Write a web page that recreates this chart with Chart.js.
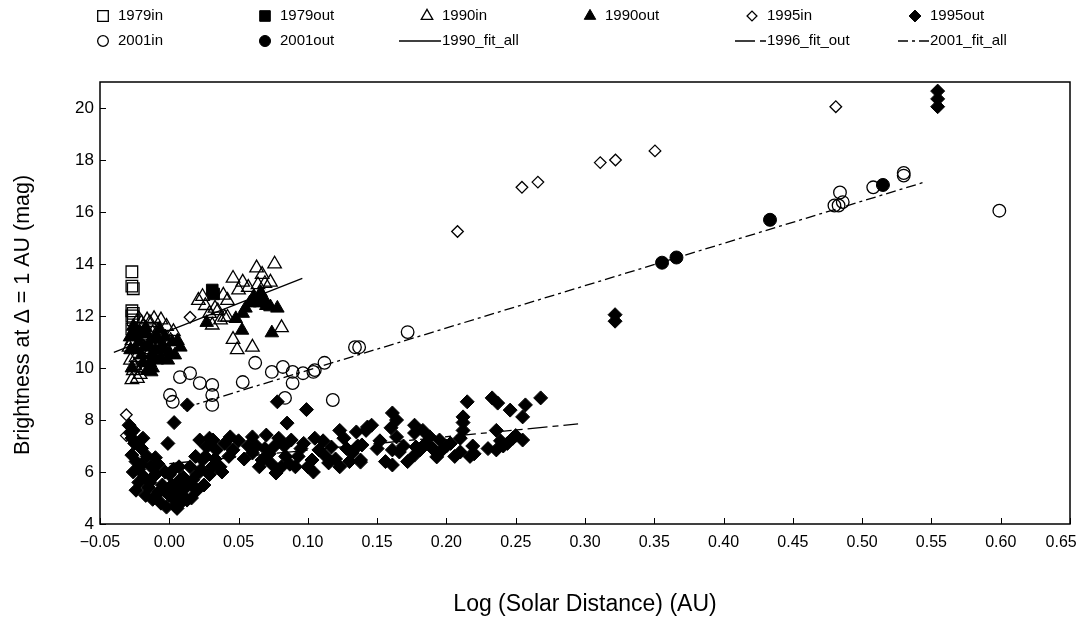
<!DOCTYPE html>
<html>
<head>
<meta charset="utf-8">
<title>Brightness vs solar distance</title>
<script src="https://cdn.jsdelivr.net/npm/chart.js@4.4.0/dist/chart.umd.min.js"></script>
<style>
  html, body { margin: 0; padding: 0; background: #fff; }
  #wrap { width: 1080px; height: 621px; }
</style>
</head>
<body>
<div id="wrap"><canvas id="chart" width="1080" height="621"></canvas></div>
<script>
// ---- data ----
const xTickValues = [-0.05, 0, 0.05, 0.10, 0.15, 0.20, 0.25, 0.30, 0.35, 0.40, 0.45, 0.50, 0.55, 0.60, 0.65];
const yTickValues = [4, 6, 8, 10, 12, 14, 16, 18, 20];

const x1979in = [-0.027, -0.027, -0.026, -0.027, -0.026, -0.027, -0.026, -0.027];
const y1979in = [13.7, 13.15, 13.05, 12.2, 12.1, 12.0, 11.85, 11.5];

const x1979out = [0.031, 0.032];
const y1979out = [13.0, 12.85];

const x1990in = [-0.028, -0.025, -0.020, -0.016, -0.011, -0.006, -0.002, -0.027, -0.029, -0.024, -0.025,
  -0.021, -0.027, -0.023, -0.012, -0.008, -0.019, -0.013, 0.001, -0.017, -0.026,
  -0.022, -0.014, 0.003, -0.028, -0.020,
  0.021, 0.024, 0.026, 0.029, 0.033, 0.031, 0.035, 0.037, 0.039, 0.040, 0.042, 0.042, 0.046, 0.050,
  0.053, 0.057, 0.063, 0.064, 0.067, 0.069, 0.073, 0.076, 0.081, 0.046, 0.049, 0.060];
const y1990in = [11.2, 11.5, 11.75, 11.85, 11.9, 11.85, 11.6, 11.05, 10.8, 10.4, 10.1,
  9.75, 9.55, 9.6, 11.35, 11.45, 11.6, 10.7, 11.05, 10.0, 9.9,
  11.9, 11.75, 11.4, 10.3, 10.0,
  12.6, 12.75, 12.4, 12.1, 12.3, 11.65, 12.2, 11.85, 12.8, 11.95, 11.95, 12.6, 13.45, 13.0,
  13.3, 13.1, 13.85, 13.2, 13.6, 13.25, 13.3, 14.0, 11.55, 11.1, 10.7, 10.8];

const x1990out = [-0.028, -0.025, -0.022, -0.021, -0.018, -0.016, -0.014, -0.013, -0.011, -0.009, -0.009,
  -0.005, -0.004, -0.001, 0.002, -0.024, -0.019, -0.013, -0.028, 0.006, 0.008, -0.007, -0.017,
  -0.026, -0.023, -0.020, -0.015, -0.012, -0.010, -0.006, -0.003, 0.000, 0.004, -0.027, -0.016,
  0.027, 0.053, 0.0525, 0.074, 0.078, 0.063, 0.058, 0.0655, 0.070, 0.068, 0.061, 0.055, 0.048, 0.073, 0.066];
const y1990out = [11.2, 11.4, 11.0, 11.35, 10.8, 11.3, 10.2, 10.5, 11.1, 10.3, 11.2,
  10.9, 10.7, 10.3, 11.0, 10.7, 10.2, 9.85, 10.7, 11.05, 10.8, 11.5, 11.55,
  11.6, 11.2, 10.5, 10.9, 10.0, 10.7, 10.4, 11.2, 10.6, 10.5, 10.0, 9.9,
  11.75, 12.1, 11.45, 11.35, 12.3, 12.6, 12.5, 12.5, 12.4, 12.7, 12.75, 12.3, 11.9, 12.35, 12.9];

const x1995in = [-0.031, -0.031, 0.015, 0.208, 0.2545, 0.266, 0.311, 0.322, 0.3505, 0.481];
const y1995in = [8.2, 7.4, 11.95, 15.25, 16.95, 17.15, 17.9, 18.0, 18.35, 20.05];

const x1995out = [-0.029, -0.028, -0.027, -0.026, -0.025, -0.027, -0.024, -0.022, -0.026, -0.022, -0.024,
  -0.018, -0.015, -0.013, -0.010, -0.012, -0.008, -0.005, -0.003, -0.006, -0.002, 0.000, 0.002, 0.004,
  0.006, 0.008, 0.010, -0.008, -0.016, -0.020,
  -0.020, -0.017, -0.010, -0.004, 0.000, 0.005, 0.009, 0.003, -0.014, 0.012, 0.016, 0.020, 0.023,
  0.026, 0.031, 0.029, 0.018, 0.007, -0.019,
  -0.001, 0.0035, 0.013,
  0.0128, 0.0056, -0.0016, 0.002, 0.0077, 0.010, 0.015, 0.017, 0.020, 0.022, 0.027, 0.024, 0.0315,
  0.034, 0.0366, 0.029, 0.025, 0.033, 0.040, 0.043, 0.038, 0.019,
  0.044, 0.060, 0.070, 0.079, 0.088, 0.105, 0.123, 0.135, 0.142, 0.060, 0.067, 0.065, 0.077, 0.081,
  0.091, 0.103, 0.108, 0.117, 0.115, 0.123, 0.132, 0.138, 0.046, 0.099, 0.085, 0.078, 0.095, 0.072, 0.128,
  0.050, 0.054, 0.057, 0.063, 0.069, 0.074, 0.076, 0.084, 0.087, 0.093, 0.097, 0.100, 0.111, 0.113,
  0.120, 0.126, 0.130, 0.136, 0.083, 0.104,
  0.215, 0.233, 0.237, 0.246, 0.257, 0.268, 0.255, 0.236, 0.236, 0.241, 0.248, 0.255, 0.212, 0.212,
  0.212, 0.210, 0.210, 0.203, 0.195, 0.188, 0.197, 0.193, 0.181, 0.177, 0.177, 0.178, 0.177, 0.161,
  0.164, 0.160, 0.164, 0.161, 0.166, 0.161, 0.143, 0.146, 0.139, 0.138, 0.150, 0.244, 0.152,
  0.169, 0.172, 0.185, 0.190, 0.200, 0.206, 0.219, 0.220, 0.230, 0.239, 0.250, 0.217, 0.156, 0.183,
  0.3217, 0.3217, 0.5545, 0.5545, 0.5545];
const y1995out = [7.8, 7.5, 7.3, 7.6, 7.1, 6.65, 6.4, 6.1, 6.0, 5.6, 5.3,
  5.8, 5.4, 6.2, 6.55, 4.95, 5.2, 5.5, 6.0, 4.8, 4.65, 5.1, 5.5, 4.7,
  4.9, 5.3, 5.8, 6.3, 6.6, 6.9,
  6.3, 5.1, 5.9, 5.3, 5.9, 5.2, 4.85, 6.1, 5.6, 5.5, 5.0, 5.9, 6.1,
  6.6, 6.2, 7.3, 5.4, 6.2, 7.3,
  7.1, 7.9, 8.58,
  4.92, 4.6, 5.3, 5.04, 5.7, 5.3, 6.2, 5.7, 5.3, 7.23, 6.96, 6.46, 7.23,
  6.85, 6.2, 5.9, 5.5, 6.5, 7.1, 6.6, 6.0, 6.6,
  7.35, 7.35, 7.42, 7.3, 7.23, 7.3, 7.6, 7.54, 7.6, 6.73, 6.46, 6.2, 5.96, 6.2,
  6.2, 6.46, 6.85, 6.96, 6.35, 6.2, 6.73, 6.46, 6.85, 8.4, 7.88, 8.7, 6.9, 6.7, 6.9,
  7.2, 6.5, 7.0, 7.0, 6.9, 6.3, 7.0, 6.6, 6.3, 6.6, 7.1, 6.2, 7.2, 6.6,
  6.5, 7.3, 6.4, 7.0, 7.0, 6.0,
  8.7, 8.85, 8.65, 8.38, 8.58, 8.85, 8.12, 7.6, 6.85, 7.0, 7.3, 7.23, 8.12, 7.9,
  7.6, 7.3, 6.77, 7.1, 7.23, 7.35, 6.85, 6.58, 6.85, 7.8, 7.5, 6.96, 6.65, 8.27,
  8.0, 7.7, 7.35, 6.85, 6.77, 6.27, 7.73, 7.8, 7.04, 6.38, 6.9, 7.1, 7.2,
  7.0, 6.4, 7.1, 6.9, 7.0, 6.6, 7.0, 6.7, 6.9, 7.2, 7.4, 6.6, 6.4, 7.6,
  12.05, 11.8, 20.65, 20.35, 20.05];

const x2001in = [0.062, 0.0077, 0.015, 0.022, 0.031, 0.031, 0.031, 0.0005, 0.0025, 0.053, 0.074, 0.082,
  0.089, 0.089, 0.0965, 0.104, 0.105, 0.112, 0.0835, 0.118, 0.134, 0.137, 0.172,
  0.484, 0.480, 0.483, 0.486, 0.508, 0.530, 0.530, 0.599];
const y2001in = [10.2, 9.65, 9.8, 9.42, 9.35, 8.96, 8.58, 8.96, 8.7, 9.46, 9.85, 10.04,
  9.85, 9.42, 9.8, 9.85, 9.92, 10.2, 8.85, 8.77, 10.8, 10.8, 11.38,
  16.75, 16.25, 16.25, 16.38, 16.95, 17.5, 17.4, 16.05];

const x2001out = [0.3556, 0.366, 0.4335, 0.515];
const y2001out = [14.05, 14.25, 15.7, 17.04];

const xFit1990 = [-0.04, 0.096];
const yFit1990 = [10.6, 13.45];
const xFit1996 = [0.0, 0.295];
const yFit1996 = [6.32, 7.85];
const xFit2001 = [0.01, 0.545];
const yFit2001 = [8.45, 17.15];

// ---- helpers ----
function pts(xs, ys) {
  return xs.map((x, i) => ({ x: x, y: ys[i] }));
}

const FONT = "'Liberation Sans', Arial, Helvetica, sans-serif";

function markerSet(label, xs, ys, style, radius, filled) {
  return {
    label: label,
    data: pts(xs, ys),
    showLine: false,
    pointStyle: style,
    pointRadius: radius,
    pointHoverRadius: radius,
    pointBorderWidth: filled ? 1 : 1.3,
    pointBorderColor: '#000',
    pointBackgroundColor: filled ? '#000' : 'rgba(0,0,0,0)'
  };
}

function fitSet(label, xs, ys, dash) {
  return {
    type: 'line',
    label: label,
    data: pts(xs, ys),
    showLine: true,
    fill: false,
    borderColor: '#000',
    borderWidth: 1.3,
    borderDash: dash,
    pointRadius: 0,
    pointHoverRadius: 0
  };
}

const datasets = [
  fitSet('1990_fit_all', xFit1990, yFit1990, []),
  fitSet('1996_fit_out', xFit1996, yFit1996, [20, 5, 6, 5]),
  fitSet('2001_fit_all', xFit2001, yFit2001, [10, 4, 3, 4]),
  markerSet('2001out', x2001out, y2001out, 'circle', 6.5, true),
  markerSet('2001in', x2001in, y2001in, 'circle', 6.3, false),
  markerSet('1995in', x1995in, y1995in, 'rectRot', 5.8, false),
  markerSet('1979out', x1979out, y1979out, 'rect', 8.2, true),
  markerSet('1979in', x1979in, y1979in, 'rect', 8.2, false),
  markerSet('1990in', x1990in, y1990in, 'triangle', 7.8, false),
  markerSet('1990out', x1990out, y1990out, 'triangle', 7.8, true),
  markerSet('1995out', x1995out, y1995out, 'rectRot', 7, true)
];

// legend grid: [row, col]
const legendSlots = {
  '1979in': [0, 0], '1979out': [0, 1], '1990in': [0, 2], '1990out': [0, 3], '1995in': [0, 4], '1995out': [0, 5],
  '2001in': [1, 0], '2001out': [1, 1], '1990_fit_all': [1, 2], '1996_fit_out': [1, 4], '2001_fit_all': [1, 5]
};
const legendTextX = [118, 280, 442, 605, 767, 930];
const legendRowY = [16, 41];
const legendLineLen = { '1990_fit_all': 43, '1996_fit_out': 32, '2001_fit_all': 32 };

const legendPlugin = {
  id: 'gridLegend',
  afterDraw(chart) {
    const ctx = chart.ctx;
    ctx.save();
    ctx.font = '15px ' + FONT;
    ctx.textBaseline = 'middle';
    ctx.fillStyle = '#000';
    chart.data.datasets.forEach(ds => {
      const slot = legendSlots[ds.label];
      if (!slot) return;
      const tx = legendTextX[slot[1]];
      const ty = legendRowY[slot[0]];
      if (ds.type === 'line') {
        ctx.save();
        ctx.strokeStyle = '#000';
        ctx.lineWidth = 1.3;
        ctx.setLineDash(ds.borderDash);
        ctx.beginPath();
        ctx.moveTo(tx - legendLineLen[ds.label], ty);
        ctx.lineTo(tx - 1, ty);
        ctx.stroke();
        ctx.restore();
      } else {
        ctx.save();
        ctx.fillStyle = ds.pointBackgroundColor;
        ctx.strokeStyle = '#000';
        ctx.lineWidth = ds.pointBorderWidth;
        let r = ds.pointRadius * 0.85;
        if (ds.pointStyle === 'rect') r = 7.5;
        Chart.helpers.drawPoint(ctx, { pointStyle: ds.pointStyle, radius: r, rotation: 0, borderWidth: ds.pointBorderWidth }, tx - 15, ty);
        ctx.restore();
      }
      ctx.fillStyle = '#000';
      ctx.fillText(ds.label, tx, ty);
    });
    ctx.restore();
  }
};

// frame and inward tick marks
const framePlugin = {
  id: 'frameTicks',
  beforeDatasetsDraw(chart) {
    const { ctx, chartArea: a, scales } = chart;
    ctx.save();
    ctx.strokeStyle = '#000';
    ctx.lineWidth = 1.5;
    ctx.strokeRect(a.left, a.top, a.right - a.left, a.bottom - a.top);
    ctx.lineWidth = 1;
    ctx.beginPath();
    xTickValues.forEach(v => {
      const px = Math.round(scales.x.getPixelForValue(v)) + 0.5;
      ctx.moveTo(px, a.bottom);
      ctx.lineTo(px, a.bottom - 6);
    });
    yTickValues.forEach(v => {
      const py = Math.round(scales.y.getPixelForValue(v)) + 0.5;
      ctx.moveTo(a.left, py);
      ctx.lineTo(a.left + 6, py);
    });
    ctx.stroke();
    ctx.restore();
  }
};

// last x label sits a little inside the right edge, as in the original
function xLabel(v) {
  const s = (v < 0 ? '\u2212' : '') + Math.abs(v).toFixed(2);
  return v >= 0.649 ? s + '\u2007\u2007' : s;
}

const ctx = document.getElementById('chart').getContext('2d');
const chart = new Chart(ctx, {
  type: 'scatter',
  data: { datasets: datasets },
  plugins: [framePlugin, legendPlugin],
  options: {
    responsive: false,
    animation: false,
    devicePixelRatio: 1,
    layout: { padding: { top: 82, right: 10, left: 0, bottom: 0 } },
    plugins: {
      legend: { display: false },
      tooltip: { enabled: false }
    },
    scales: {
      x: {
        type: 'linear',
        min: -0.05,
        max: 0.65,
        afterBuildTicks: s => { s.ticks = xTickValues.map(v => ({ value: v })); },
        afterFit: s => { s.height = 97; s.paddingLeft = 0; s.paddingRight = 0; },
        grid: { display: false, drawTicks: false },
        border: { display: false },
        ticks: {
          color: '#000',
          padding: 9,
          maxRotation: 0,
          autoSkip: false,
          font: { family: FONT, size: 16 },
          callback: xLabel
        },
        title: {
          display: true,
          text: 'Log (Solar Distance) (AU)',
          color: '#000',
          font: { family: FONT, size: 23 },
          padding: { top: 0, bottom: 3 }
        }
      },
      y: {
        type: 'linear',
        min: 4,
        max: 21,
        afterBuildTicks: s => { s.ticks = yTickValues.map(v => ({ value: v })); },
        afterFit: s => { s.width = 100; s.paddingTop = 0; s.paddingBottom = 0; },
        grid: { display: false, drawTicks: false },
        border: { display: false },
        ticks: {
          color: '#000',
          padding: 6,
          autoSkip: false,
          font: { family: FONT, size: 17 },
          callback: v => String(v)
        },
        title: {
          display: true,
          text: 'Brightness at \u0394 = 1 AU (mag)\u00a0\u00a0\u00a0\u00a0',
          color: '#000',
          font: { family: FONT, size: 21.5 },
          padding: { top: 10, bottom: 0 }
        }
      }
    }
  }
});
</script>
</body>
</html>
